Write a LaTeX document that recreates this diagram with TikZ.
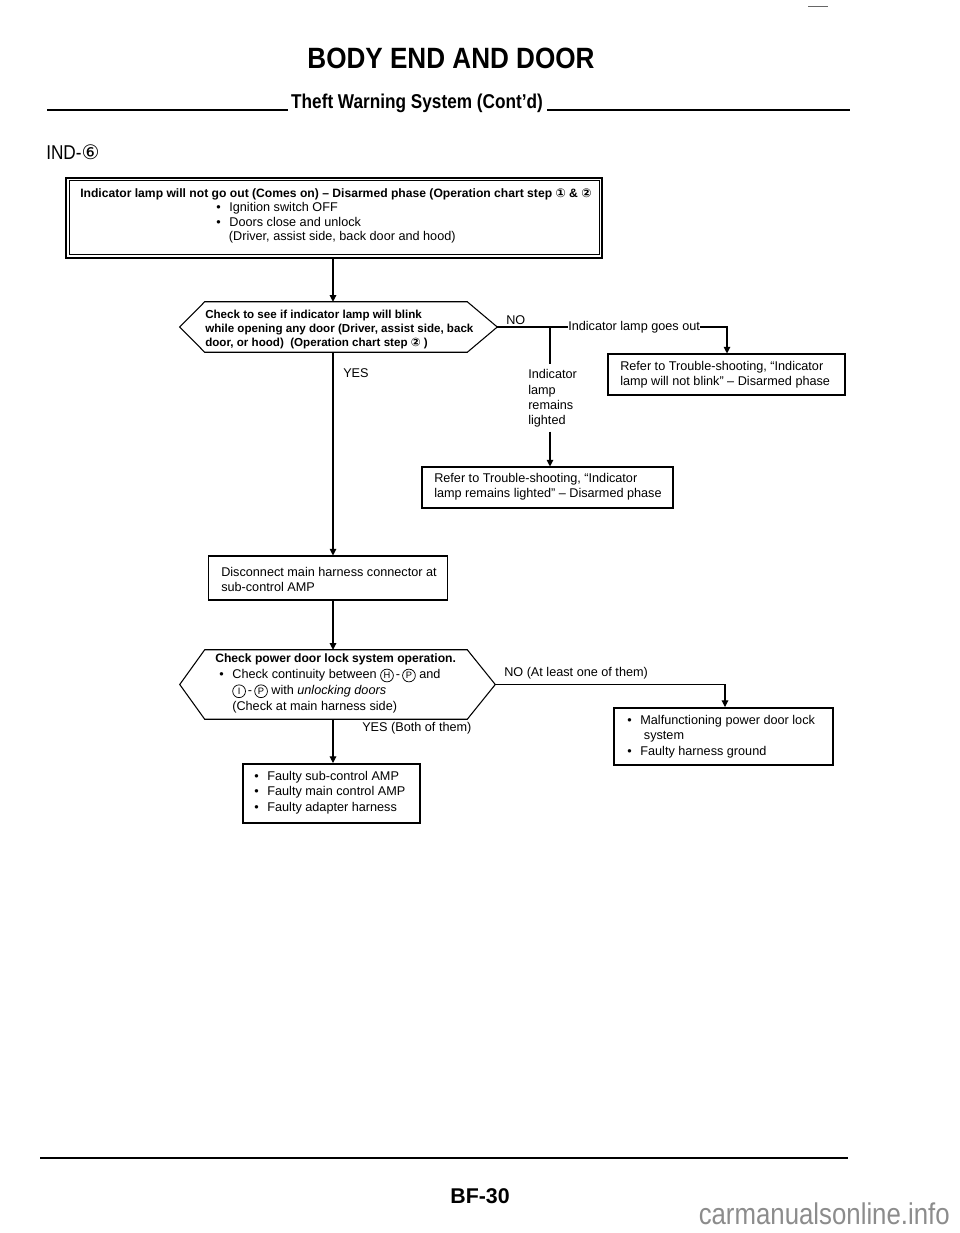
\documentclass[tikz,border=0pt]{standalone}
\usepackage{fontspec}
\setmainfont{Liberation Sans}
\newfontfamily\symf{DejaVu Sans}
\newfontfamily\narrowf{Liberation Sans}[FakeStretch=0.86]
\newfontfamily\titlef{Liberation Sans}[FakeStretch=0.89]
\usetikzlibrary{arrows.meta,calc}
\newcommand{\ci}[1]{{\symf #1}}
\newcommand{\cl}[1]{\tikz[baseline=(cc.base)]\node[circle,draw,line width=0.55pt,inner sep=0pt,minimum size=9.6pt,font=\fontsize{7}{8}\selectfont] (cc) {#1};}
\newcommand{\bul}{\textbullet\hspace{6.5pt}}
\tikzset{
  conn/.style={line width=0.8pt},
  arr/.style={conn,-{Triangle[length=5pt,width=5pt]}},
  rule/.style={line width=1.5pt},
  txt/.style={inner sep=0pt,anchor=west,align=left,font=\fontsize{9.5}{11.5}\selectfont},
  btxt/.style={inner sep=0pt,anchor=west,align=left,font=\fontsize{8.7}{10.6}\selectfont\bfseries},
  thinbox/.style={draw,line width=0.8pt,inner sep=0pt},
  thickbox/.style={draw,line width=1.5pt,inner sep=0pt},
  hexa/.style={inner sep=0pt},
  hexline/.style={line width=0.8pt,line join=miter},
}
\begin{document}
\begin{tikzpicture}[x=0.75pt,y=-0.75pt]
\useasboundingbox[fill=white] (0,0) rectangle (960,1233);

% header
\draw[line width=0.6pt,black!60] (808,6) -- (828,6);
\node[inner sep=0pt,font=\titlef\bfseries\fontsize{22}{26}\selectfont] (title) at (451,58) {BODY END AND DOOR};
\node[inner sep=0pt,anchor=base,font=\narrowf\bfseries\fontsize{15}{18}\selectfont] (sub) at (417,108) {Theft Warning System (Cont’d)};
\draw[rule] (47,110) -- (288,110);
\draw[rule] (547,110) -- (850,110);
\node[inner sep=0pt,anchor=west,font=\narrowf\fontsize{15}{17}\selectfont] (ind) at (46,152) {IND-\ci{⑥}};

% box 1
\node[thickbox,minimum width=402pt,minimum height=60pt] (b1) at (334,217.5) {};
\draw[line width=0.6pt] ($(b1.north west)+(4,4)$) rectangle ($(b1.south east)+(-4,-4)$);
\node[txt,font=\fontsize{9.5}{10.9}\selectfont] (b1t) at (80,216) {\textbf{\fontsize{9.1}{10.9}\selectfont Indicator lamp will not go out (Comes on) -- Disarmed phase (Operation chart step \ci{①} \& \ci{②}}\\
\hspace*{102pt}\bul Ignition switch OFF\\
\hspace*{102pt}\bul Doors close and unlock\\
\hspace*{111.5pt}(Driver, assist side, back door and hood)};

% decision 1
\node[hexa,minimum width=196.5pt,minimum height=37.5pt] (d1) at (336,327) {};
\coordinate (d1e) at ($(d1.east)+(30,0)$);
\coordinate (d1w) at ($(d1.west)+(-25,0)$);
\draw[hexline] (d1.north west) -- (d1.north east) -- (d1e) -- (d1.south east) -- (d1.south west) -- (d1w) -- cycle;
\node[btxt,font=\fontsize{8.7}{10.5}\selectfont\bfseries] (d1t) at (205,329) {Check to see if indicator lamp will blink\\while opening any door (Driver, assist side, back\\door, or hood)\ \ (Operation chart step \ci{②} )};
\node[txt] (yes1) at (343,373) {YES};
\node[txt] (no1) at (506,320) {NO};
\node[txt] (goesout) at (568,327) {Indicator lamp goes out};
\node[txt] (lamp) at (528,398.5) {Indicator\\lamp\\remains\\lighted};

% refer boxes
\node[thinbox,minimum width=177.75pt,minimum height=30.75pt] (rb1) at (726.5,374.5) {};
\node[txt] (rb1t) at (620,374.5) {Refer to Trouble-shooting, “Indicator\\lamp will not blink” -- Disarmed phase};
\node[thinbox,minimum width=188.25pt,minimum height=30.75pt] (rb2) at (547.5,487.5) {};
\node[txt] (rb2t) at (434,486.5) {Refer to Trouble-shooting, “Indicator\\lamp remains lighted” -- Disarmed phase};

% disconnect box
\node[thinbox,minimum width=179pt,minimum height=33pt] (disc) at (328,578) {};
\node[txt] (disct) at (221,579.5) {Disconnect main harness connector at\\sub-control AMP};

% decision 2
\node[hexa,minimum width=196.5pt,minimum height=51.75pt] (d2) at (336,684.5) {};
\coordinate (d2e) at ($(d2.east)+(28,0)$);
\coordinate (d2w) at ($(d2.west)+(-25,0)$);
\draw[hexline] (d2.north west) -- (d2.north east) -- (d2e) -- (d2.south east) -- (d2.south west) -- (d2w) -- cycle;
\node[txt,font=\fontsize{9.5}{11.8}\selectfont] (d2t) at (215,683.5) {\textbf{\fontsize{9.1}{11.8}\selectfont Check power door lock system operation.}\\
\hspace*{3pt}\bul Check continuity between \cl{H}\,-\,\cl{P} and\\
\hspace*{12.8pt}\cl{I}\,-\,\cl{P} with \textit{unlocking doors}\\
\hspace*{12.8pt}(Check at main harness side)};
\node[txt] (no2) at (504,673) {NO (At least one of them)};
\node[txt] (yes2) at (362,728) {YES (Both of them)};

% result boxes
\node[thickbox,minimum width=164.25pt,minimum height=42.75pt] (rb3) at (723.5,736.5) {};
\node[txt,font=\fontsize{9.5}{11.6}\selectfont] (rb3t) at (627,736.5) {\bul Malfunctioning power door lock\\\hspace*{12.5pt}system\\\bul Faulty harness ground};
\node[thickbox,minimum width=132.75pt,minimum height=44.25pt] (rb4) at (331.5,793.5) {};
\node[txt,font=\fontsize{9.5}{11.6}\selectfont] (rb4t) at (254,792.5) {\bul Faulty sub-control AMP\\\bul Faulty main control AMP\\\bul Faulty adapter harness};

% connectors
\coordinate (spine) at (333,0);
\coordinate (j1) at (550,0);
\coordinate (c727) at (727,0);
\coordinate (c725) at (725,0);
\draw[arr] (spine |- b1.south) -- (spine |- d1.north);
\draw[arr] (spine |- d1.south) -- (spine |- disc.north);
\draw[arr] (spine |- disc.south) -- (spine |- d2.north);
\draw[arr] (spine |- d2.south) -- (spine |- rb4.north);
\draw[conn] (d1e) -- (goesout.west);
\draw[arr] (goesout.east) -| (c727 |- rb1.north);
\draw[conn] (j1 |- d1e) -- ($(j1 |- lamp.north)+(0,-5)$);
\draw[arr] ($(j1 |- lamp.south)+(0,4)$) -- (j1 |- rb2.north);
\draw[arr] (d2e) -| (c725 |- rb3.north);

% footer
\draw[rule] (40,1158) -- (848,1158);
\node[inner sep=0pt,font=\bfseries\fontsize{16}{19}\selectfont] (bf) at (480,1196) {BF-30};
\node[inner sep=0pt,anchor=east,text=black!45,font=\narrowf\fontsize{22.5}{26}\selectfont] (wm) at (950,1214) {carmanualsonline.info};
\end{tikzpicture}
\end{document}
